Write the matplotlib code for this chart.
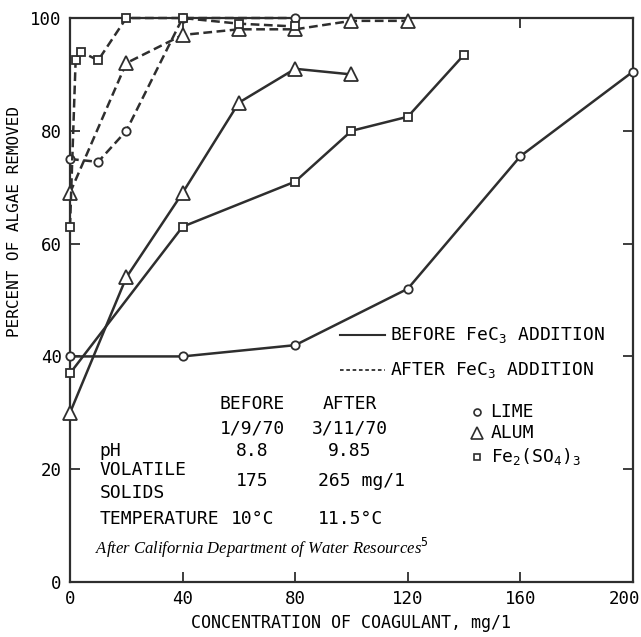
import matplotlib
matplotlib.use("Agg")
import matplotlib.pyplot as plt
import matplotlib.transforms as mtransforms

plt.rcParams['font.family'] = ['DejaVu Sans Mono']
plt.rcParams['mathtext.fontset'] = 'custom'
plt.rcParams['mathtext.rm'] = 'DejaVu Sans Mono'
plt.rcParams['mathtext.it'] = 'DejaVu Sans Mono'

# percent of algae removed vs coagulant dose (mg/l)
lime_before_x = [0, 40, 80, 120, 160, 200]
lime_before_y = [40, 40, 42, 52, 75.5, 90.5]
alum_before_x = [0, 20, 40, 60, 80, 100]
alum_before_y = [30, 54, 69, 85, 91, 90]
fe_before_x = [0, 40, 80, 100, 120, 140]
fe_before_y = [37, 63, 71, 80, 82.5, 93.5]

lime_after_x = [0, 10, 20, 40, 80]
lime_after_y = [75, 74.5, 80, 100, 100]
alum_after_x = [0, 20, 40, 60, 80, 100, 120]
alum_after_y = [69, 92, 97, 98, 98, 99.5, 99.5]
fe_after_x = [0, 2, 4, 10, 20, 40, 60, 80]
fe_after_y = [63, 92.5, 94, 92.5, 100, 100, 99, 98.5]

x_ticks = [0, 40, 80, 120, 160, 200]
y_ticks = [0, 20, 40, 60, 80, 100]

ink = '#2e2e2e'
fig = plt.figure(figsize=(6.41, 6.37), dpi=100)
ax = fig.add_axes([0.1092, 0.0863, 0.8783, 0.8854])

def curve(x, y, marker, ms, dashed):
    ls = (0, (3.5, 1.8)) if dashed else '-'
    ax.plot(x, y, color=ink, lw=1.8, ls=ls, marker=marker, ms=ms,
            mfc='white', mec=ink, mew=1.3, clip_on=False, zorder=3)

curve(lime_before_x, lime_before_y, 'o', 6, False)
curve(alum_before_x, alum_before_y, '^', 10, False)
curve(fe_before_x, fe_before_y, 's', 6, False)
curve(lime_after_x, lime_after_y, 'o', 6, True)
curve(alum_after_x, alum_after_y, '^', 10, True)
curve(fe_after_x, fe_after_y, 's', 6, True)

ax.set_xlim(0, 200)
ax.set_ylim(0, 100)
ax.set_xticks(x_ticks)
ax.set_yticks(y_ticks)
ax.tick_params(direction='in', length=7, width=1.3, color=ink,
               top=True, right=True, labelsize=12.5, pad=6)
for s in ax.spines.values():
    s.set_linewidth(1.6)
    s.set_color(ink)

# keep the last x label inside the figure
last = ax.get_xticklabels()[-1]
last.set_ha('right')
last.set_transform(last.get_transform() +
                   mtransforms.ScaledTranslation(5 / 72, 0, fig.dpi_scale_trans))

ax.set_xlabel('CONCENTRATION OF COAGULANT, mg/1', fontsize=12, labelpad=4)
ax.set_ylabel('PERCENT OF ALGAE REMOVED', fontsize=11.5)
ax.yaxis.set_label_coords(-0.085, 0.64)

# legend drawn by hand
tf = ax.transAxes
fs = 13
ax.plot([0.48, 0.56], [0.438, 0.438], color=ink, lw=1.5, transform=tf)
ax.text(0.568, 0.438, 'BEFORE FeC$_3$ ADDITION', fontsize=fs, va='center', transform=tf)
ax.plot([0.48, 0.56], [0.376, 0.376], color=ink, lw=1.3, ls=(0, (2, 1.5)), transform=tf)
ax.text(0.568, 0.376, 'AFTER FeC$_3$ ADDITION', fontsize=fs, va='center', transform=tf)
ax.plot([0.723], [0.301], 'o', ms=5, mfc='white', mec=ink, mew=1.2, transform=tf)
ax.text(0.747, 0.301, 'LIME', fontsize=fs, va='center', transform=tf)
ax.plot([0.723], [0.264], '^', ms=9, mfc='white', mec=ink, mew=1.2, transform=tf)
ax.text(0.747, 0.264, 'ALUM', fontsize=fs, va='center', transform=tf)
ax.plot([0.723], [0.222], 's', ms=5, mfc='white', mec=ink, mew=1.2, transform=tf)
ax.text(0.747, 0.222, 'Fe$_2$(SO$_4$)$_3$', fontsize=fs, va='center', transform=tf)

# sample conditions table
c1, c2 = 0.324, 0.497
ax.text(c1, 0.316, 'BEFORE', fontsize=fs, ha='center', va='center', transform=tf)
ax.text(c2, 0.316, 'AFTER', fontsize=fs, ha='center', va='center', transform=tf)
ax.text(c1, 0.273, '1/9/70', fontsize=fs, ha='center', va='center', transform=tf)
ax.text(c2, 0.273, '3/11/70', fontsize=fs, ha='center', va='center', transform=tf)
ax.text(0.053, 0.232, 'pH', fontsize=fs, va='center', transform=tf)
ax.text(c1, 0.232, '8.8', fontsize=fs, ha='center', va='center', transform=tf)
ax.text(c2, 0.232, '9.85', fontsize=fs, ha='center', va='center', transform=tf)
ax.text(0.053, 0.199, 'VOLATILE', fontsize=fs, va='center', transform=tf)
ax.text(0.053, 0.158, 'SOLIDS', fontsize=fs, va='center', transform=tf)
ax.text(c1, 0.179, '175', fontsize=fs, ha='center', va='center', transform=tf)
ax.text(0.44, 0.179, '265 mg/1', fontsize=fs, va='center', transform=tf)
ax.text(0.053, 0.112, 'TEMPERATURE', fontsize=fs, va='center', transform=tf)
ax.text(c1, 0.112, '10°C', fontsize=fs, ha='center', va='center', transform=tf)
ax.text(0.44, 0.112, '11.5°C', fontsize=fs, va='center', transform=tf)
ax.text(0.045, 0.060, 'After California Department of Water Resources$^5$',
        fontsize=12, family='Liberation Serif', style='italic', va='center',
        transform=tf)

fig.savefig('out.png', dpi=100)
